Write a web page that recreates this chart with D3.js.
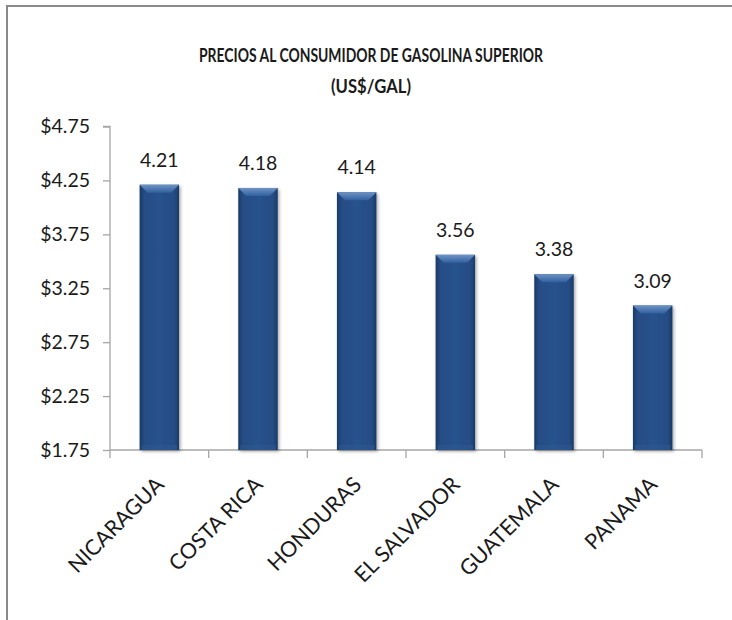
<!DOCTYPE html>
<html>
<head>
<meta charset="utf-8">
<script src="https://cdn.jsdelivr.net/npm/d3@7/dist/d3.min.js"></script>
<style>
  html, body { margin: 0; padding: 0; background: #fff; }
  svg { display: block; }
  text { font-family: Lato, "Liberation Sans", sans-serif; fill: #1a1a1a; }
</style>
</head>
<body>
<svg id="chart" width="732" height="620"></svg>
<script>
const titleLines = ["PRECIOS AL CONSUMIDOR DE GASOLINA SUPERIOR", "(US$/GAL)"];
const categories = ["NICARAGUA", "COSTA RICA", "HONDURAS", "EL SALVADOR", "GUATEMALA", "PANAMA"];
const values = [4.21, 4.18, 4.14, 3.56, 3.38, 3.09];
const yTicks = [1.75, 2.25, 2.75, 3.25, 3.75, 4.25, 4.75];

const svg = d3.select("#chart");
const W = 732, H = 620;
const plot = { left: 110, right: 702, top: 126.5, bottom: 450 };

svg.append("rect").attr("width", W).attr("height", H).attr("fill", "#fff");

const defs = svg.append("defs");
const gBody = defs.append("linearGradient").attr("id", "barBody")
  .attr("x1", "0").attr("x2", "1").attr("y1", "0").attr("y2", "0");
gBody.append("stop").attr("offset", "0").attr("stop-color", "#1b3a66");
gBody.append("stop").attr("offset", "0.12").attr("stop-color", "#254d85");
gBody.append("stop").attr("offset", "0.5").attr("stop-color", "#28528c");
gBody.append("stop").attr("offset", "0.88").attr("stop-color", "#254d85");
gBody.append("stop").attr("offset", "1").attr("stop-color", "#1b3a66");
const gTop = defs.append("linearGradient").attr("id", "barTop")
  .attr("x1", "0").attr("x2", "0").attr("y1", "0").attr("y2", "1");
gTop.append("stop").attr("offset", "0").attr("stop-color", "#6f93c4");
gTop.append("stop").attr("offset", "1").attr("stop-color", "#30609e");
const f = defs.append("filter").attr("id", "shadow")
  .attr("x", "-20%").attr("y", "-5%").attr("width", "150%").attr("height", "115%");
f.append("feDropShadow").attr("dx", 1.5).attr("dy", 1.5).attr("stdDeviation", 1.6)
  .attr("flood-color", "#000").attr("flood-opacity", 0.35);

// outer border (left and top visible)
svg.append("line").attr("x1", 7).attr("x2", 7).attr("y1", 5).attr("y2", H)
  .attr("stroke", "#8a8a8a").attr("stroke-width", 2);
svg.append("line").attr("x1", 6).attr("x2", W).attr("y1", 6).attr("y2", 6)
  .attr("stroke", "#8a8a8a").attr("stroke-width", 2);

// title
svg.append("text").attr("x", 371).attr("y", 62).attr("text-anchor", "middle")
  .attr("font-size", 19).attr("font-weight", "bold")
  .attr("textLength", 344).attr("lengthAdjust", "spacingAndGlyphs")
  .text(titleLines[0]);
svg.append("text").attr("x", 371).attr("y", 93).attr("text-anchor", "middle")
  .attr("font-size", 19).attr("font-weight", "bold")
  .attr("textLength", 80).attr("lengthAdjust", "spacingAndGlyphs")
  .text(titleLines[1]);

const x = d3.scaleBand().domain(categories).range([plot.left, plot.right])
  .paddingInner(0.6).paddingOuter(0.3);
const y = d3.scaleLinear().domain([1.75, 4.75]).range([plot.bottom, plot.top]);
const step = x.step();

const yAxis = d3.axisLeft(y).tickValues(yTicks).tickSize(7).tickPadding(13)
  .tickFormat(d => "$" + d3.format(".2f")(d));
const gy = svg.append("g").attr("transform", `translate(${plot.left},0)`).call(yAxis);
gy.select(".domain").attr("stroke", "#a6a6a6").attr("stroke-width", 1.3)
  .attr("d", `M-7,${y(4.75)}H0V${y(1.75)}`);
gy.selectAll(".tick line").attr("stroke", "#a6a6a6").attr("stroke-width", 1.3);
gy.selectAll(".tick text").attr("font-size", 19.5).attr("fill", "#1a1a1a")
  .attr("font-family", "Lato, 'Liberation Sans', sans-serif");

const boundaries = categories.map(c => x(c) - step * x.paddingInner() / 2);
boundaries.push(plot.right);
svg.append("line").attr("x1", plot.left).attr("x2", plot.right)
  .attr("y1", plot.bottom).attr("y2", plot.bottom)
  .attr("stroke", "#a6a6a6").attr("stroke-width", 1.3);
svg.selectAll(".xtick").data(boundaries).enter().append("line")
  .attr("class", "xtick")
  .attr("x1", d => d).attr("x2", d => d)
  .attr("y1", plot.bottom).attr("y2", plot.bottom + 8)
  .attr("stroke", "#a6a6a6").attr("stroke-width", 1.3);

const bars = svg.selectAll(".bar").data(categories.map((c, i) => ({ c, v: values[i] })))
  .enter().append("g").attr("class", "bar");
bars.append("rect")
  .attr("x", d => x(d.c)).attr("y", d => y(d.v))
  .attr("width", x.bandwidth()).attr("height", d => y(1.75) - y(d.v))
  .attr("fill", "url(#barBody)").attr("filter", "url(#shadow)");
const bev = 8;
bars.append("polygon")
  .attr("points", d => {
    const x0 = x(d.c), x1 = x0 + x.bandwidth(), y0 = y(d.v);
    return [[x0, y0], [x1, y0], [x1 - bev, y0 + bev], [x0 + bev, y0 + bev]].map(p => p.join(",")).join(" ");
  })
  .attr("fill", "url(#barTop)");
bars.append("rect")
  .attr("x", d => x(d.c) + 2).attr("y", y(1.75) - 5)
  .attr("width", x.bandwidth() - 4).attr("height", 5)
  .attr("fill", "#2d5990").attr("opacity", 0.6);

bars.append("text")
  .attr("x", d => x(d.c) + x.bandwidth() / 2)
  .attr("y", d => y(d.v) - 18)
  .attr("text-anchor", "middle").attr("font-size", 19.5)
  .text(d => d3.format(".2f")(d.v));

svg.selectAll(".cat").data(categories).enter().append("text")
  .attr("class", "cat")
  .attr("text-anchor", "end").attr("font-size", 21.5)
  .attr("transform", d => `translate(${x(d) + x.bandwidth() / 2 + 6},486) rotate(-45)`)
  .text(d => d);
</script>
</body>
</html>
